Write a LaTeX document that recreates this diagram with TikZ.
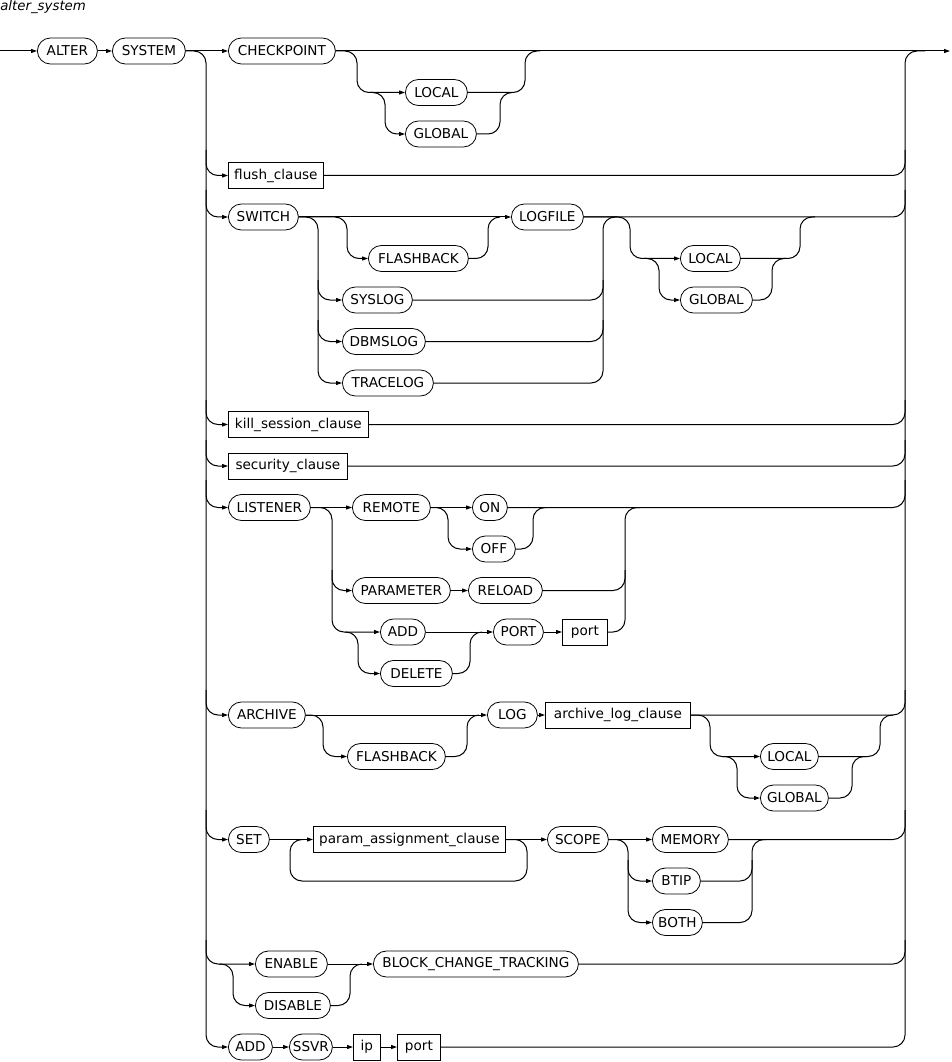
\documentclass[tikz,border=0pt]{standalone}
\usepackage{fontspec}
\setmainfont{DejaVu Sans}
\usetikzlibrary{arrows.meta}
\begin{document}
\begin{tikzpicture}[x=0.75pt,y=-0.75pt,
  box/.style={draw, line width=0.6pt, minimum height=19.5pt, inner sep=0pt, anchor=west,
    font=\fontsize{10.2}{12}\selectfont},
  kw/.style={box, rounded corners=9.75pt},
  nt/.style={box},
  rl/.style={line width=0.75pt, rounded corners=9pt},
  ar/.style={rl, -{Triangle[length=4.5pt,width=3pt]}}]
\useasboundingbox (0,0) rectangle (951,1062);
\node[anchor=west, inner sep=0pt, font=\fontsize{10}{12}\selectfont\itshape] (title) at (0,7) {alter\_system};
% row 0
\node[kw, minimum width={60*0.75pt}] (ALTER) at (37,51) {ALTER};
\node[kw, minimum width={73*0.75pt}] (SYSTEM) at (112,51) {SYSTEM};
\node[kw, minimum width={107*0.75pt}] (CHECKPOINT) at (228,51) {CHECKPOINT};
\node[kw, minimum width={62*0.75pt}] (LOCALa) at (405,92.5) {LOCAL};
\node[kw, minimum width={71*0.75pt}] (GLOBALa) at (405,134) {GLOBAL};
\node[nt, minimum width={95*0.75pt}] (flush) at (228,175.5) {flush\_clause};
% switch
\node[kw, minimum width={70*0.75pt}] (SWITCH) at (228,217) {SWITCH};
\node[kw, minimum width={100*0.75pt}] (FLASHBACKa) at (368,258.5) {FLASHBACK};
\node[kw, minimum width={72*0.75pt}] (LOGFILE) at (511,217) {LOGFILE};
\node[kw, minimum width={70*0.75pt}] (SYSLOG) at (342,300) {SYSLOG};
\node[kw, minimum width={83*0.75pt}] (DBMSLOG) at (342,341.5) {DBMSLOG};
\node[kw, minimum width={91*0.75pt}] (TRACELOG) at (342,383) {TRACELOG};
\node[kw, minimum width={60*0.75pt}] (LOCALb) at (680,258.5) {LOCAL};
\node[kw, minimum width={72*0.75pt}] (GLOBALb) at (680,300) {GLOBAL};
\node[nt, minimum width={140*0.75pt}] (kill) at (228,424.5) {kill\_session\_clause};
\node[nt, minimum width={119*0.75pt}] (security) at (228,466) {security\_clause};
% listener
\node[kw, minimum width={82*0.75pt}] (LISTENER) at (228,507.5) {LISTENER};
\node[kw, minimum width={78*0.75pt}] (REMOTE) at (352,507.5) {REMOTE};
\node[kw, minimum width={35*0.75pt}] (ON) at (472,507.5) {ON};
\node[kw, minimum width={43*0.75pt}] (OFF) at (472,549) {OFF};
\node[kw, minimum width={98*0.75pt}] (PARAMETER) at (352,590.5) {PARAMETER};
\node[kw, minimum width={74*0.75pt}] (RELOAD) at (468,590.5) {RELOAD};
\node[kw, minimum width={45*0.75pt}] (ADDa) at (380,632) {ADD};
\node[kw, minimum width={72*0.75pt}] (DELETE) at (380,673.5) {DELETE};
\node[kw, minimum width={50*0.75pt}] (PORT) at (493,632) {PORT};
\node[nt, minimum width={45*0.75pt}] (porta) at (562,632) {port};
% archive
\node[kw, minimum width={77*0.75pt}] (ARCHIVE) at (228,715) {ARCHIVE};
\node[kw, minimum width={98*0.75pt}] (FLASHBACKb) at (347,756.5) {FLASHBACK};
\node[kw, minimum width={50*0.75pt}] (LOG) at (487,715) {LOG};
\node[nt, minimum width={145*0.75pt}] (archlog) at (545,715) {archive\_log\_clause};
\node[kw, minimum width={58*0.75pt}] (LOCALc) at (760,756.5) {LOCAL};
\node[kw, minimum width={68*0.75pt}] (GLOBALc) at (760,798) {GLOBAL};
% set
\node[kw, minimum width={41*0.75pt}] (SET) at (228,839.5) {SET};
\node[nt, minimum width={192*0.75pt}] (param) at (313,839.5) {param\_assignment\_clause};
\node[kw, minimum width={61*0.75pt}] (SCOPE) at (547,839.5) {SCOPE};
\node[kw, minimum width={76*0.75pt}] (MEMORY) at (652,839.5) {MEMORY};
\node[kw, minimum width={48*0.75pt}] (BTIP) at (652,881) {BTIP};
\node[kw, minimum width={50*0.75pt}] (BOTH) at (652,922.5) {BOTH};
% enable
\node[kw, minimum width={72*0.75pt}] (ENABLE) at (255,964) {ENABLE};
\node[kw, minimum width={75*0.75pt}] (DISABLE) at (255,1005.5) {DISABLE};
\node[kw, minimum width={205*0.75pt}] (BCT) at (373,964) {BLOCK\_CHANGE\_TRACKING};
% add ssvr
\node[kw, minimum width={44*0.75pt}] (ADDb) at (228,1047) {ADD};
\node[kw, minimum width={43*0.75pt}] (SSVR) at (289,1047) {SSVR};
\node[nt, minimum width={27*0.75pt}] (ip) at (353,1047) {ip};
\node[nt, minimum width={43*0.75pt}] (portb) at (397,1047) {port};
\coordinate (start) at (0,51);
\coordinate (finish) at (950,51);

% ---------- main line
\draw[ar] (start) -- (ALTER.west);
\draw[ar] (ALTER.east) -- (SYSTEM.west);
\draw[ar] (SYSTEM.east) -- (CHECKPOINT.west);
\draw[ar] (CHECKPOINT.east) -- (finish);
% left rail
\draw[ar] (SYSTEM.east) -- (206,51) -- (206,1047) -- (ADDb.west);
\draw[ar] (206,150) -- (206,175.5) -- (flush.west);
\draw[ar] (206,190) -- (206,217) -- (SWITCH.west);
\draw[ar] (206,400) -- (206,424.5) -- (kill.west);
\draw[ar] (206,440) -- (206,466) -- (security.west);
\draw[ar] (206,480) -- (206,507.5) -- (LISTENER.west);
\draw[ar] (206,690) -- (206,715) -- (ARCHIVE.west);
\draw[ar] (206,810) -- (206,839.5) -- (SET.west);
\draw[ar] (206,940) -- (206,964) -- (ENABLE.west);
% right rail
\draw[rl] (portb.east) -- (905,1047) -- (905,51) -- (925,51);
\draw[rl] (flush.east) -- (905,175.5) -- (905,150);
\draw[rl] (LOGFILE.east) -- (905,217) -- (905,190);
\draw[rl] (kill.east) -- (905,424.5) -- (905,400);
\draw[rl] (security.east) -- (905,466) -- (905,440);
\draw[rl] (ON.east) -- (905,507.5) -- (905,480);
\draw[rl] (archlog.east) -- (905,715) -- (905,690);
\draw[rl] (MEMORY.east) -- (905,839.5) -- (905,810);
\draw[rl] (BCT.east) -- (905,964) -- (905,940);

% ---------- checkpoint options
\draw[ar] (CHECKPOINT.east) -- (357,51) -- (357,92.5) -- (LOCALa.west);
\draw[ar] (370,92.5) -- (385,92.5) -- (385,134) -- (GLOBALa.west);
\draw[rl] (GLOBALa.east) -- (500,134) -- (500,92.5) -- (512,92.5);
\draw[rl] (LOCALa.east) -- (525,92.5) -- (525,51) -- (540,51);

% ---------- switch
\draw[ar] (SWITCH.east) -- (LOGFILE.west);
\draw[ar] (SWITCH.east) -- (347,217) -- (347,258.5) -- (FLASHBACKa.west);
\draw[rl] (FLASHBACKa.east) -- (488,258.5) -- (488,217) -- (500,217);
\draw[ar] (SWITCH.east) -- (318,217) -- (318,383) -- (TRACELOG.west);
\draw[ar] (318,280) -- (318,300) -- (SYSLOG.west);
\draw[ar] (318,320) -- (318,341.5) -- (DBMSLOG.west);
\draw[rl] (TRACELOG.east) -- (603,383) -- (603,217) -- (617,217);
\draw[rl] (SYSLOG.east) -- (603,300) -- (603,280);
\draw[rl] (DBMSLOG.east) -- (603,341.5) -- (603,320);
\draw[ar] (LOGFILE.east) -- (630,217) -- (630,258.5) -- (LOCALb.west);
\draw[ar] (644,258.5) -- (659,258.5) -- (659,300) -- (GLOBALb.west);
\draw[rl] (GLOBALb.east) -- (772,300) -- (772,258.5) -- (786,258.5);
\draw[rl] (LOCALb.east) -- (800,258.5) -- (800,217) -- (815,217);

% ---------- listener
\draw[ar] (LISTENER.east) -- (REMOTE.west);
\draw[ar] (REMOTE.east) -- (ON.west);
\draw[ar] (REMOTE.east) -- (448,507.5) -- (448,549) -- (OFF.west);
\draw[rl] (OFF.east) -- (533,549) -- (533,507.5) -- (546,507.5);
\draw[ar] (LISTENER.east) -- (332,507.5) -- (332,632) -- (ADDa.west);
\draw[ar] (332,570) -- (332,590.5) -- (PARAMETER.west);
\draw[ar] (PARAMETER.east) -- (RELOAD.west);
\draw[rl] (RELOAD.east) -- (625,590.5) -- (625,570);
\draw[ar] (345,632) -- (358,632) -- (358,673.5) -- (DELETE.west);
\draw[ar] (ADDa.east) -- (PORT.west);
\draw[rl] (DELETE.east) -- (470,673.5) -- (470,632) -- (482,632);
\draw[ar] (PORT.east) -- (porta.west);
\draw[rl] (porta.east) -- (625,632) -- (625,507.5) -- (640,507.5);

% ---------- archive
\draw[ar] (ARCHIVE.east) -- (LOG.west);
\draw[ar] (ARCHIVE.east) -- (323,715) -- (323,756.5) -- (FLASHBACKb.west);
\draw[rl] (FLASHBACKb.east) -- (467,756.5) -- (467,715) -- (479,715);
\draw[ar] (LOG.east) -- (archlog.west);
\draw[ar] (archlog.east) -- (710,715) -- (710,756.5) -- (LOCALc.west);
\draw[ar] (723,756.5) -- (737,756.5) -- (737,798) -- (GLOBALc.west);
\draw[rl] (GLOBALc.east) -- (852,798) -- (852,756.5) -- (866,756.5);
\draw[rl] (LOCALc.east) -- (880,756.5) -- (880,715) -- (893,715);

% ---------- set
\draw[ar] (SET.east) -- (param.west);
\draw[rl] (param.east) -- (527,839.5) -- (527,881) -- (290,881) -- (290,839.5) -- (303,839.5);
\draw[ar] (param.east) -- (SCOPE.west);
\draw[ar] (SCOPE.east) -- (MEMORY.west);
\draw[ar] (SCOPE.east) -- (628,839.5) -- (628,922.5) -- (BOTH.west);
\draw[ar] (628,860) -- (628,881) -- (BTIP.west);
\draw[rl] (BOTH.east) -- (752,922.5) -- (752,839.5) -- (766,839.5);
\draw[rl] (BTIP.east) -- (752,881) -- (752,860);

% ---------- enable / disable
\draw[ar] (219,964) -- (233,964) -- (233,1005.5) -- (DISABLE.west);
\draw[ar] (ENABLE.east) -- (BCT.west);
\draw[rl] (DISABLE.east) -- (350,1005.5) -- (350,964) -- (362,964);

% ---------- add ssvr
\draw[ar] (ADDb.east) -- (SSVR.west);
\draw[ar] (SSVR.east) -- (ip.west);
\draw[ar] (ip.east) -- (portb.west);
\end{tikzpicture}
\end{document}
